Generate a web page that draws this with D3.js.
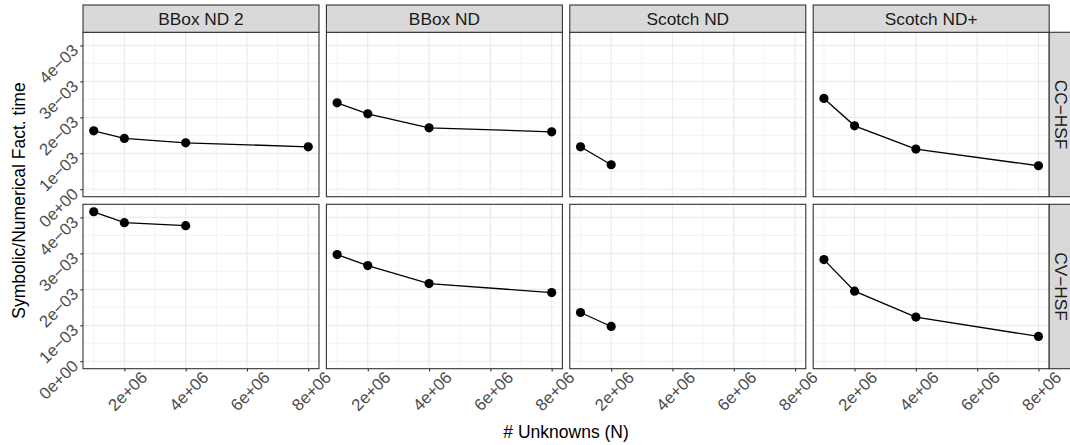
<!DOCTYPE html>
<html>
<head>
<meta charset="utf-8">
<script src="https://cdn.jsdelivr.net/npm/d3@7"></script>
<style>
  body { margin: 0; background: #fff; }
  svg { display: block; font-family: "Liberation Sans", Arial, sans-serif; }
</style>
</head>
<body>
<svg id="chart" width="1070" height="445"></svg>
<script>
// facets
const methods = ["BBox ND 2", "BBox ND", "Scotch ND", "Scotch ND+"];
const variants = ["CC\u2212HSF", "CV\u2212HSF"];

// problem sizes (# unknowns)
const sizes = [1e6, 2e6, 4e6, 8e6];

// symbolic / numerical factorization time ratio, CC-HSF row
const ccBBoxND2 = [1.625e-3, 1.414e-3, 1.292e-3, 1.181e-3];
const ccBBoxND = [2.403e-3, 2.097e-3, 1.708e-3, 1.597e-3];
const ccScotchND = [1.181e-3, 0.681e-3];
const ccScotchNDp = [2.525e-3, 1.764e-3, 1.117e-3, 0.653e-3];

// CV-HSF row
const cvBBoxND2 = [4.158e-3, 3.856e-3, 3.772e-3];
const cvBBoxND = [2.967e-3, 2.661e-3, 2.161e-3, 1.911e-3];
const cvScotchND = [1.356e-3, 0.967e-3];
const cvScotchNDp = [2.828e-3, 1.950e-3, 1.228e-3, 0.689e-3];

const xTicks = [2e6, 4e6, 6e6, 8e6];
const xMinor = [1e6, 3e6, 5e6, 7e6];
const yTicks = [0, 1e-3, 2e-3, 3e-3, 4e-3];
const yMinor = [0.5e-3, 1.5e-3, 2.5e-3, 3.5e-3];

const rows = [
  [ccBBoxND2, ccBBoxND, ccScotchND, ccScotchNDp],
  [cvBBoxND2, cvBBoxND, cvScotchND, cvScotchNDp]
];

const svg = d3.select("#chart");

const panelLeft = 83, panelW = 236, colGap = 7.4;
const panelTop = 32.3, panelH = 164.4, rowGap = 7.6;
const stripTop = 5;

const allY = rows.flat(2);
const yMax = d3.max(allY), yMin = 0;
const ySpan = yMax - yMin;
const xSpan = d3.max(sizes) - d3.min(sizes);

const x = d3.scaleLinear()
  .domain([d3.min(sizes) - 0.05 * xSpan, d3.max(sizes) + 0.05 * xSpan])
  .range([0, panelW]);
const y = d3.scaleLinear()
  .domain([yMin - 0.05 * ySpan, yMax + 0.05 * ySpan])
  .range([panelH, 0]);

function sci(v) {
  if (v === 0) return "0e+00";
  const e = Math.floor(Math.log10(Math.abs(v)) + 1e-9);
  const m = Math.round(v / Math.pow(10, e));
  return m + "e" + (e < 0 ? "\u2212" : "+") + String(Math.abs(e)).padStart(2, "0");
}

const line = d3.line()
  .x(d => x(d[0]))
  .y(d => y(d[1]));

rows.forEach((series, r) => {
  methods.forEach((m, c) => {
    const px = panelLeft + c * (panelW + colGap);
    const py = panelTop + r * (panelH + rowGap);
    const g = svg.append("g").attr("transform", `translate(${px},${py})`);

    g.append("rect")
      .attr("width", panelW).attr("height", panelH)
      .attr("fill", "#fff");

    // minor grid
    g.selectAll(".xminor").data(xMinor).enter().append("line")
      .attr("x1", d => x(d)).attr("x2", d => x(d))
      .attr("y1", 0).attr("y2", panelH)
      .attr("stroke", "#ebebeb").attr("stroke-width", 0.6);
    g.selectAll(".yminor").data(yMinor).enter().append("line")
      .attr("y1", d => y(d)).attr("y2", d => y(d))
      .attr("x1", 0).attr("x2", panelW)
      .attr("stroke", "#ebebeb").attr("stroke-width", 0.6);
    // major grid
    g.selectAll(".xmajor").data(xTicks).enter().append("line")
      .attr("x1", d => x(d)).attr("x2", d => x(d))
      .attr("y1", 0).attr("y2", panelH)
      .attr("stroke", "#ebebeb").attr("stroke-width", 1.2);
    g.selectAll(".ymajor").data(yTicks).enter().append("line")
      .attr("y1", d => y(d)).attr("y2", d => y(d))
      .attr("x1", 0).attr("x2", panelW)
      .attr("stroke", "#ebebeb").attr("stroke-width", 1.2);

    const pts = series[c].map((v, i) => [sizes[i], v]);

    g.append("path")
      .datum(pts)
      .attr("d", line)
      .attr("fill", "none")
      .attr("stroke", "#000")
      .attr("stroke-width", 1.3);

    g.selectAll(".pt").data(pts).enter().append("circle")
      .attr("cx", d => x(d[0]))
      .attr("cy", d => y(d[1]))
      .attr("r", 4.6)
      .attr("fill", "#000");

    g.append("rect")
      .attr("width", panelW).attr("height", panelH)
      .attr("fill", "none")
      .attr("stroke", "#333").attr("stroke-width", 1.1);

    // x axis on bottom row
    if (r === rows.length - 1) {
      const ax = g.append("g")
        .attr("transform", `translate(0,${panelH})`)
        .call(d3.axisBottom(x).tickValues(xTicks).tickSize(2.75).tickFormat(sci));
      ax.select(".domain").remove();
      ax.selectAll(".tick line").attr("stroke", "#333").attr("stroke-width", 1.1);
      ax.selectAll(".tick text")
        .attr("x", 0).attr("y", 0).attr("dy", null)
        .attr("text-anchor", "end")
        .attr("dominant-baseline", "central")
        .attr("transform", "translate(19.5,6) rotate(-45)")
        .attr("fill", "#4d4d4d")
        .style("font-size", "16.8px")
        .style("font-family", "'Liberation Sans', Arial, sans-serif");
    }

    // y axis on left column
    if (c === 0) {
      const ay = g.append("g")
        .call(d3.axisLeft(y).tickValues(yTicks).tickSize(2.75).tickFormat(sci));
      ay.select(".domain").remove();
      ay.selectAll(".tick line").attr("stroke", "#333").attr("stroke-width", 1.1);
      ay.selectAll(".tick text")
        .attr("x", 0).attr("y", 0).attr("dy", null)
        .attr("text-anchor", "end")
        .attr("dominant-baseline", "central")
        .attr("transform", "translate(-7.5,1.5) rotate(-45)")
        .attr("fill", "#4d4d4d")
        .style("font-size", "16.8px")
        .style("font-family", "'Liberation Sans', Arial, sans-serif");
    }

    // top strips
    if (r === 0) {
      svg.append("rect")
        .attr("x", px).attr("y", stripTop)
        .attr("width", panelW).attr("height", panelTop - stripTop)
        .attr("fill", "#d9d9d9").attr("stroke", "#333").attr("stroke-width", 1.1);
      svg.append("text")
        .attr("x", px + panelW / 2).attr("y", (stripTop + panelTop) / 2 + 0.8)
        .attr("text-anchor", "middle").attr("dominant-baseline", "central")
        .attr("fill", "#1a1a1a").style("font-size", "17.3px")
        .text(m);
    }

    // right strips
    if (c === methods.length - 1) {
      const sx = px + panelW;
      svg.append("rect")
        .attr("x", sx).attr("y", py)
        .attr("width", 24).attr("height", panelH)
        .attr("fill", "#d9d9d9").attr("stroke", "#333").attr("stroke-width", 1.1);
      svg.append("text")
        .attr("transform", `translate(${sx + 12},${py + panelH / 2}) rotate(90)`)
        .attr("text-anchor", "middle").attr("dominant-baseline", "central")
        .attr("fill", "#1a1a1a").style("font-size", "17.3px")
        .text(variants[r]);
    }
  });
});

// axis titles
svg.append("text")
  .attr("x", panelLeft + (4 * panelW + 3 * colGap) / 2)
  .attr("y", 438)
  .attr("text-anchor", "middle")
  .attr("fill", "#000").style("font-size", "17.5px")
  .text("# Unknowns (N)");

svg.append("text")
  .attr("transform", `translate(18.5,${panelTop + panelH + rowGap / 2}) rotate(-90)`)
  .attr("text-anchor", "middle").attr("dominant-baseline", "central")
  .attr("fill", "#000").style("font-size", "17.5px")
  .text("Symbolic/Numerical Fact. time");
</script>
</body>
</html>
